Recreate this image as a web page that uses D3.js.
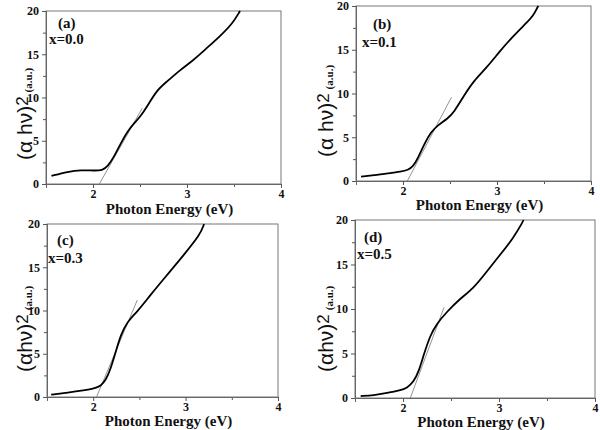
<!DOCTYPE html>
<html><head><meta charset="utf-8">
<script src="https://cdn.jsdelivr.net/npm/d3@7/dist/d3.min.js"></script>
<style>body{margin:0;background:#fff}svg{display:block}
.sf{font-family:"Liberation Serif","Times New Roman","DejaVu Serif",serif;font-weight:bold}
.ss{font-family:"Liberation Sans",Arial,"DejaVu Sans",sans-serif}
</style>
</head><body>
<svg id="c" width="600" height="430"></svg>
<script>
// ---- data ----
const panelLabels = ["(a)", "(b)", "(c)", "(d)"];
const compLabels = ["x=0.0", "x=0.1", "x=0.3", "x=0.5"];
const xTicks = [2, 3, 4];
const yTicks = [0, 5, 10, 15, 20];
const xDomain = [1.5, 4];
const yDomain = [0, 20];

const curveA = [[1.558,0.93],[1.733,1.43],[1.874,1.62],[2.014,1.54],[2.10,1.58],[2.154,2.0],[2.225,3.16],[2.295,4.7],[2.365,6.05],[2.435,7.0],[2.505,7.8],[2.575,8.94],[2.68,10.87],[2.786,11.83],[2.926,13.18],[3.067,14.3],[3.207,15.68],[3.347,17.03],[3.488,18.6],[3.558,19.9],[3.565,20]];
const curveB = [[1.554,0.49],[1.70,0.68],[1.842,0.87],[1.98,1.06],[2.053,1.25],[2.105,1.63],[2.158,2.58],[2.228,4.28],[2.298,5.6],[2.368,6.36],[2.474,7.12],[2.544,7.88],[2.649,9.77],[2.754,11.48],[2.895,13.0],[3.035,14.9],[3.175,16.6],[3.316,18.1],[3.386,18.9],[3.428,19.8],[3.44,20]];
const curveC = [[1.545,0.27],[1.724,0.5],[1.903,0.77],[2.011,0.97],[2.082,1.28],[2.136,1.93],[2.19,3.29],[2.244,5.22],[2.297,7.16],[2.369,8.7],[2.477,9.86],[2.62,11.8],[2.799,14.1],[2.978,16.4],[3.158,18.76],[3.2,20]];
const curveD = [[1.559,0.22],[1.697,0.3],[1.834,0.56],[1.972,0.86],[2.041,1.12],[2.11,1.8],[2.162,2.92],[2.214,4.79],[2.283,7.04],[2.352,8.35],[2.455,9.66],[2.593,11.16],[2.731,12.28],[2.869,14.16],[3.007,16.03],[3.145,17.9],[3.248,19.78],[3.255,20]];
const tangentA = [[2.067,0],[2.523,8.75]];
const tangentB = [[2.046,0],[2.516,9.58]];
const tangentC = [[2.036,0],[2.477,11.2]];
const tangentD = [[2.076,0],[2.428,10.2]];
const yLabelMain = ["(α hν)", "(α hν)", "(αhν)", "(αhν)"];

// ---- layout ----
const boxes = [
  {l:46, r:281, t:11, b:184, titleY:214, lab:[58,28], comp:[49,44], ylx:32, yly:160},
  {l:356, r:591, t:6, b:181, titleY:210, lab:[373,29], comp:[362,47], ylx:333, yly:157},
  {l:47, r:278, t:224, b:397, titleY:426, lab:[57,245], comp:[48,263], ylx:32, yly:372},
  {l:355, r:595, t:220, b:398, titleY:427, lab:[364,242], comp:[357,259], ylx:333, yly:372}
];
const curves = [curveA, curveB, curveC, curveD];
const tangents = [tangentA, tangentB, tangentC, tangentD];

const svg = d3.select("#c");

boxes.forEach((bx, i) => {
  const x = d3.scaleLinear().domain(xDomain).range([bx.l, bx.r]);
  const y = d3.scaleLinear().domain(yDomain).range([bx.b, bx.t]);
  const g = svg.append("g");

  g.append("rect").attr("x", bx.l).attr("y", bx.t).attr("width", bx.r - bx.l).attr("height", bx.b - bx.t)
    .attr("fill", "none").attr("stroke", "#777").attr("stroke-width", 1);

  const gx2 = g.append("g").attr("transform", `translate(0,${bx.b})`)
    .call(d3.axisBottom(x).tickValues([2.5, 3.5]).tickSize(3).tickFormat(""));
  const gy2 = g.append("g").attr("transform", `translate(${bx.l},0)`)
    .call(d3.axisLeft(y).tickValues([2.5, 7.5, 12.5, 17.5]).tickSize(3).tickFormat(""));
  const gx = g.append("g").attr("transform", `translate(0,${bx.b})`)
    .call(d3.axisBottom(x).tickValues(xTicks).tickSize(4).tickPadding(1).tickFormat(d3.format("d")));
  const gy = g.append("g").attr("transform", `translate(${bx.l},0)`)
    .call(d3.axisLeft(y).tickValues(yTicks).tickSize(4).tickPadding(3).tickFormat(d3.format("d")));
  [gx, gy, gx2, gy2].forEach(a => {
    a.attr("font-family", null);
    a.select(".domain").attr("stroke", "#666");
    a.selectAll(".tick line").attr("stroke", "#555");
    a.selectAll("text").attr("class", "sf").attr("font-size", 12).attr("fill", "#111");
  });

  g.append("path").datum(tangents[i])
    .attr("d", d3.line().x(d => x(d[0])).y(d => y(d[1])))
    .attr("fill", "none").attr("stroke", "#777").attr("stroke-width", 0.8);
  g.append("path").datum(curves[i])
    .attr("d", d3.line().curve(d3.curveBasis).x(d => x(d[0])).y(d => y(d[1])))
    .attr("fill", "none").attr("stroke", "#000").attr("stroke-width", 1.8);

  g.append("text").attr("class", "sf").attr("x", (bx.l + bx.r) / 2 + 6).attr("y", bx.titleY)
    .attr("text-anchor", "middle").attr("font-size", 15).attr("fill", "#111").text("Photon Energy (eV)");

  g.append("text").attr("class", "sf").attr("x", bx.lab[0]).attr("y", bx.lab[1])
    .attr("font-size", 15).attr("fill", "#111").text(panelLabels[i]);
  g.append("text").attr("class", "sf").attr("x", bx.comp[0]).attr("y", bx.comp[1])
    .attr("font-size", 15).attr("fill", "#111").text(compLabels[i]);

  const yl = g.append("text").attr("transform", `translate(${bx.ylx},${bx.yly}) rotate(-90)`)
    .attr("fill", "#111");
  yl.append("tspan").attr("class", "ss").attr("font-size", 21).text(yLabelMain[i]);
  yl.append("tspan").attr("class", "ss").attr("font-size", 17).attr("dy", -4).text("2");
  yl.append("tspan").attr("class", "sf").attr("font-size", 11).attr("dy", 4).attr("dx", 4).text("(a.u.)");
});
</script>
</body></html>
